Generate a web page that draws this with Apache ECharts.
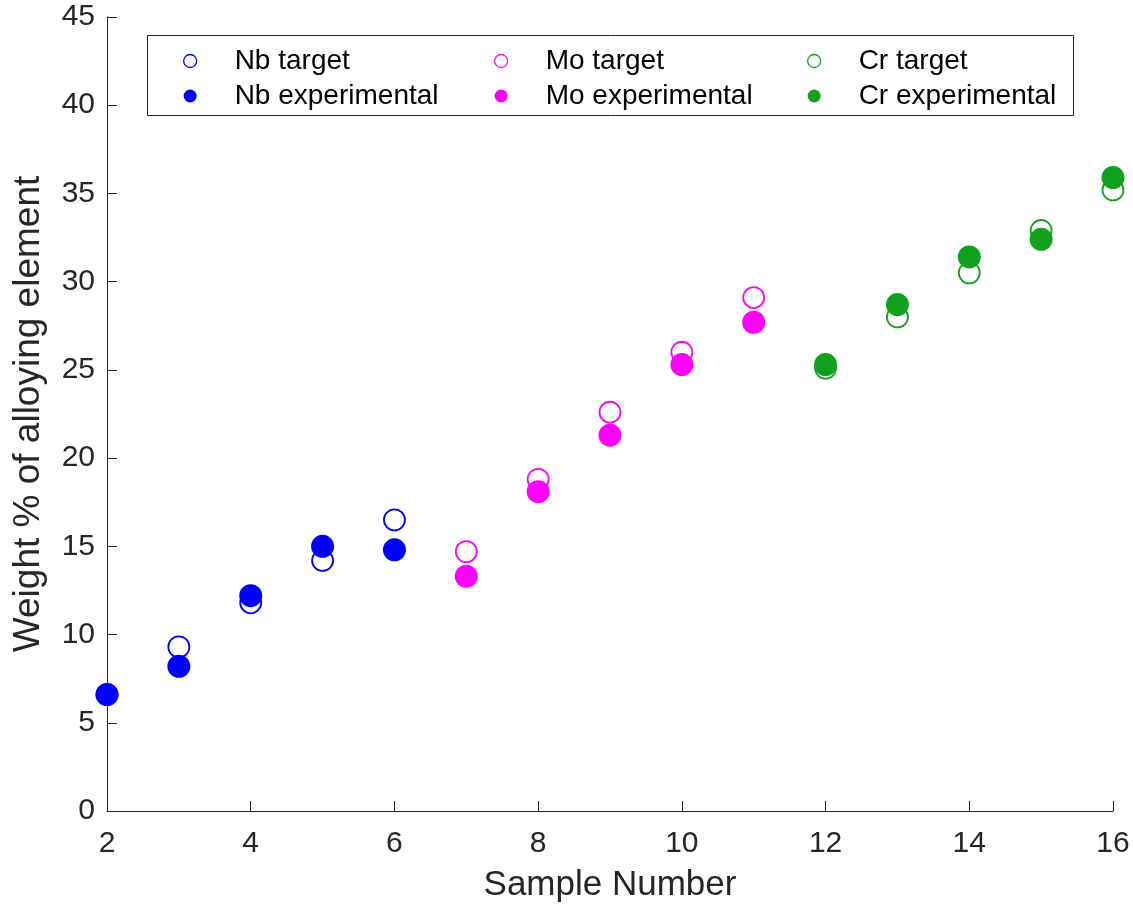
<!DOCTYPE html>
<html><head><meta charset="utf-8">
<script src="https://cdn.jsdelivr.net/npm/echarts@6/dist/echarts.min.js"></script>
<style>html,body{margin:0;padding:0;background:#fff}#c{width:1133px;height:905px}</style>
</head><body><div id="c"></div>
<script>
const nbSamples = [2, 3, 4, 5, 6];
const nbTarget = [6.6, 9.3, 11.8, 14.2, 16.5];
const nbExp = [6.6, 8.2, 12.2, 15.0, 14.8];
const moSamples = [7, 8, 9, 10, 11];
const moTarget = [14.7, 18.8, 22.6, 26.0, 29.1];
const moExp = [13.3, 18.1, 21.3, 25.3, 27.7];
const crSamples = [12, 13, 14, 15, 16];
const crTarget = [25.1, 28.0, 30.5, 32.9, 35.2];
const crExp = [25.3, 28.7, 31.4, 32.4, 35.9];

const BLUE = '#0000ff', MAG = '#ff00ff', GRN = '#10a21f';
const FONT = 'Liberation Sans';
const AX = '#262626';
const pairs = (xs, ys) => xs.map((x, i) => [x, ys[i]]);

function tgt(name, xs, ys, c) {
  return {name, type: 'scatter', symbol: 'circle', symbolSize: 21, data: pairs(xs, ys),
    itemStyle: {color: '#fff', borderColor: c, borderWidth: 1.8, opacity: 1}, z: 2};
}
function exp(name, xs, ys, c) {
  return {name, type: 'scatter', symbol: 'circle', symbolSize: 23, data: pairs(xs, ys),
    itemStyle: {color: c, opacity: 1}, z: 3};
}
function legendCol(left, names, color) {
  return {orient: 'vertical', left, top: 47, padding: 0, itemGap: 7, itemWidth: 13, itemHeight: 13,
    z: 20,
    textStyle: {fontFamily: FONT, fontSize: 28, lineHeight: 28, color: '#000', padding: [0, 0, 0, 33]},
    data: [{name: names[0], icon: 'circle', itemStyle: {color: '#fff', borderColor: color, borderWidth: 1.3, opacity: 1}},
           {name: names[1], icon: 'circle', itemStyle: {color: color, borderWidth: 0, opacity: 1}}]};
}

const chart = echarts.init(document.getElementById('c'), null, {renderer: 'canvas'});
chart.setOption({
  animation: false,
  backgroundColor: '#fff',
  grid: {left: 107, right: 20, top: 17, bottom: 94, outerBoundsMode: 'none', containLabel: false},
  graphic: [{type: 'rect', shape: {x: 147.5, y: 35.5, width: 926, height: 80},
    style: {fill: '#fff', stroke: AX, lineWidth: 1}, z: 10}],
  legend: [
    legendCol(183, ['Nb target', 'Nb experimental'], BLUE),
    legendCol(494, ['Mo target', 'Mo experimental'], MAG),
    legendCol(807, ['Cr target', 'Cr experimental'], GRN)
  ],
  xAxis: {type: 'value', min: 2, max: 16, interval: 2,
    name: 'Sample Number', nameLocation: 'middle', nameGap: 57,
    nameTextStyle: {fontFamily: FONT, fontSize: 35, color: AX},
    axisLine: {show: true, lineStyle: {color: AX, width: 1}},
    axisTick: {show: true, inside: true, length: 10, lineStyle: {color: AX}},
    axisLabel: {fontFamily: FONT, fontSize: 30, color: AX, margin: 18},
    splitLine: {show: false}},
  yAxis: {type: 'value', min: 0, max: 45, interval: 5,
    name: 'Weight % of alloying element', nameLocation: 'middle', nameGap: 60, nameRotate: 90,
    nameTextStyle: {fontFamily: FONT, fontSize: 37, color: AX},
    axisLine: {show: true, lineStyle: {color: AX, width: 1}},
    axisTick: {show: true, inside: true, length: 10, lineStyle: {color: AX}},
    axisLabel: {fontFamily: FONT, fontSize: 30, color: AX, margin: 12},
    splitLine: {show: false}},
  series: [
    tgt('Nb target', nbSamples, nbTarget, BLUE),
    tgt('Mo target', moSamples, moTarget, MAG),
    tgt('Cr target', crSamples, crTarget, GRN),
    exp('Nb experimental', nbSamples, nbExp, BLUE),
    exp('Mo experimental', moSamples, moExp, MAG),
    exp('Cr experimental', crSamples, crExp, GRN)
  ]
});
</script></body></html>
